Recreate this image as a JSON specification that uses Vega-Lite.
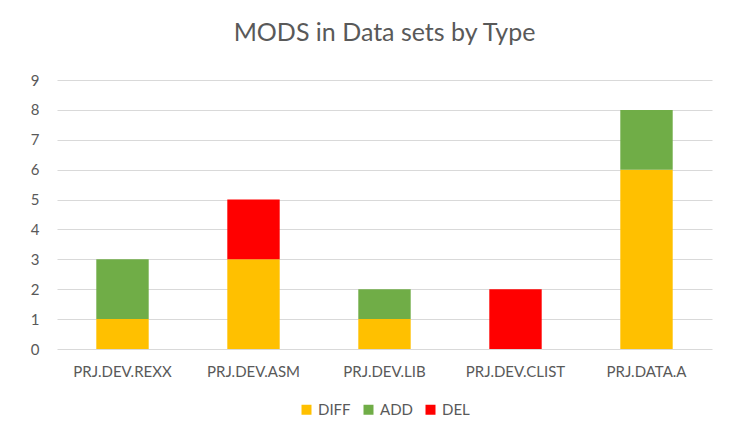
{
  "$schema": "https://vega.github.io/schema/vega-lite/v6.json",
  "autosize": "none",
  "width": 655,
  "height": 269,
  "padding": {"left": 57, "top": 80, "right": 33, "bottom": 87},
  "background": "white",
  "title": {"text": "MODS in Data sets by Type", "fontSize": 25, "font": "Lato", "fontWeight": "normal", "color": "#595959", "offset": 27},
  "data": {"values": [
    {"set": "PRJ.DEV.REXX", "type": "DIFF", "k": 0, "count": 1},
    {"set": "PRJ.DEV.REXX", "type": "ADD", "k": 1, "count": 2},
    {"set": "PRJ.DEV.ASM", "type": "DIFF", "k": 0, "count": 3},
    {"set": "PRJ.DEV.ASM", "type": "DEL", "k": 2, "count": 2},
    {"set": "PRJ.DEV.LIB", "type": "DIFF", "k": 0, "count": 1},
    {"set": "PRJ.DEV.LIB", "type": "ADD", "k": 1, "count": 1},
    {"set": "PRJ.DEV.CLIST", "type": "DEL", "k": 2, "count": 2},
    {"set": "PRJ.DATA.A", "type": "DIFF", "k": 0, "count": 6},
    {"set": "PRJ.DATA.A", "type": "ADD", "k": 1, "count": 2}
  ]},
  "mark": {"type": "bar"},
  "encoding": {
    "x": {"field": "set", "type": "nominal", "sort": null,
      "scale": {"paddingInner": 0.6, "paddingOuter": 0.3},
      "axis": {"title": null, "labelAngle": 0, "labelFont": "Lato", "labelFontSize": 15, "labelColor": "#595959", "labelPadding": 15, "domain": false, "ticks": false}},
    "y": {"field": "count", "type": "quantitative", "stack": "zero",
      "scale": {"domain": [0, 9], "nice": false},
      "axis": {"title": null, "values": [0,1,2,3,4,5,6,7,8,9], "labelOverlap": false, "labelFont": "Lato", "labelFontSize": 15, "labelColor": "#595959", "labelPadding": 18, "domain": false, "ticks": false, "gridColor": "#d9d9d9", "gridWidth": 1}},
    "color": {"field": "type", "type": "nominal",
      "scale": {"domain": ["DIFF", "ADD", "DEL"], "range": ["#FFC000", "#70AD47", "#FF0000"]},
      "legend": {"title": null, "orient": "none", "legendX": 242, "legendY": 322, "direction": "horizontal", "symbolType": "square", "symbolSize": 100, "symbolStrokeWidth": 0, "labelFont": "Lato", "labelFontSize": 15, "labelColor": "#595959", "columnPadding": 10}},
    "order": {"field": "k", "type": "quantitative"}
  },
  "config": {"view": {"stroke": null}}
}
